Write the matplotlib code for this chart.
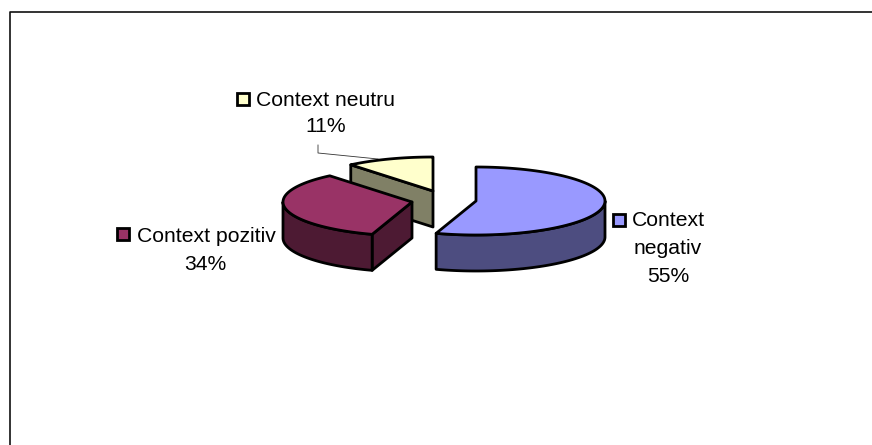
import numpy as np
import matplotlib
matplotlib.use("Agg")
import matplotlib.pyplot as plt
from matplotlib.patches import Polygon, Rectangle

plt.rcParams["font.family"] = ["Liberation Sans", "DejaVu Sans"]

# -----------------------------
# Data
# -----------------------------
categories = ["Context negativ", "Context pozitiv", "Context neutru"]
values = [55, 34, 11]

top_colors = ["#9999FF", "#993366", "#FFFFCC"]
side_colors = ["#4D4D80", "#4D1A33", "#808066"]

# -----------------------------
# Layout (pixels, y down)
# -----------------------------
WIDTH, HEIGHT = 872, 445
RX, RY = 129, 34
DEPTH = 36
LW = 2.0
centers = [(476, 201), (412, 202), (433, 191)]

# label lines as (text center x, text center y), plus legend key corner
label_lines = [
    [("Context", 668, 221), ("negativ", 668, 249), ("{}%", 668, 276)],
    [("Context pozitiv", 206, 236), ("{}%", 205, 264)],
    [("Context neutru", 325, 100), ("{}%", 326, 127)],
]
key_corners = [(613, 214), (117, 228), (237, 93)]
KEY_SIZE = 12


def rim(center, start, end, n=80):
    """Points on the pie ellipse; angles in degrees, clockwise from 12 o'clock."""
    a = np.radians(np.linspace(start, end, n))
    return np.column_stack([center[0] + RX * np.sin(a), center[1] - RY * np.cos(a)])


def draw_part(ax, pts, color, z):
    ax.add_patch(Polygon(pts, closed=True, facecolor=color, edgecolor="black",
                         linewidth=LW, joinstyle="round", zorder=z))


def main():
    fig = plt.figure(figsize=(WIDTH / 100, HEIGHT / 100), dpi=100)
    ax = fig.add_axes([0, 0, 1, 1])
    ax.set_xlim(0, WIDTH)
    ax.set_ylim(HEIGHT, 0)
    ax.axis("off")

    # chart area border, only top and left fall inside the crop
    ax.plot([9.5, 9.5, WIDTH], [HEIGHT, 11.5, 11.5], color="#111111", lw=1.2, zorder=1)

    edges = np.cumsum([0] + values) / sum(values) * 360
    slices = list(zip(edges[:-1], edges[1:], centers, top_colors, side_colors))

    # back slice first so the nearer ones cover it
    for i in [2, 1, 0]:
        start, end, c, top, side = slices[i]
        z = 2 + (2 - i) * 3
        down = np.array([0, DEPTH])

        # cut face on the clockwise-start side, seen only when it faces front
        if 180 < start < 360:
            p = rim(c, start, start, 1)[0]
            draw_part(ax, [c, p, p + down, np.array(c) + down], side, z)
        # cut face at the slice end
        if 0 < end % 360 < 180:
            p = rim(c, end, end, 1)[0]
            draw_part(ax, [c, p, p + down, np.array(c) + down], side, z)

        # outer wall, visible between 3 and 9 o'clock
        lo, hi = max(start, 90), min(end, 270)
        if lo < hi:
            arc = rim(c, lo, hi)
            draw_part(ax, np.vstack([arc, (arc + down)[::-1]]), side, z + 1)

        draw_part(ax, np.vstack([[c], rim(c, start, end)]), top, z + 2)

    # leader line for the small slice
    ax.plot([318, 318, 378], [145, 153, 159], color="#333333", lw=0.6, zorder=1.5)

    # labels and legend keys
    for i, lines in enumerate(label_lines):
        for txt, x, y in lines:
            ax.text(x, y, txt.format(values[i]), ha="center", va="center",
                    fontsize=15.2, color="black", zorder=20)
        kx, ky = key_corners[i]
        ax.add_patch(Rectangle((kx, ky), KEY_SIZE, KEY_SIZE, facecolor=top_colors[i],
                               edgecolor="black", linewidth=LW, zorder=20))

    fig.savefig("out.png", dpi=100)
    plt.close(fig)


if __name__ == "__main__":
    main()
